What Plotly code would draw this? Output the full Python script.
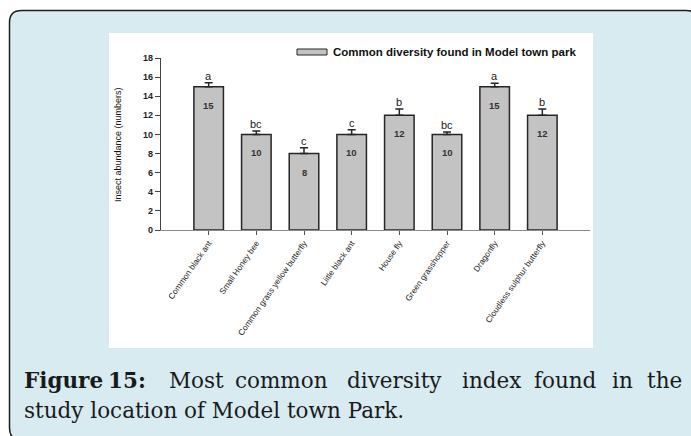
import plotly.graph_objects as go

# Insect survey data, Model town park
species = [
    "Common black ant",
    "Small Honey bee",
    "Common grass yellow butterfly",
    "Liitle black ant",
    "House fly",
    "Green grasshopper",
    "Dragonfly",
    "Cloudless sulphur butterfly",
]
abundance = [15, 10, 8, 10, 12, 10, 15, 12]
std_error = [0.4, 0.35, 0.6, 0.5, 0.65, 0.25, 0.35, 0.65]
groups = ["a", "bc", "c", "c", "b", "bc", "a", "b"]
y_ticks = [0, 2, 4, 6, 8, 10, 12, 14, 16, 18]
series_name = "Common diversity found in Model town park"

W, H = 691, 436


def px(x):
    return x / W


def py(y):
    return 1 - y / H


def rounded_rect(x0, y0, x1, y1, r):
    pts = [
        f"M{px(x0 + r)},{py(y0)}",
        f"L{px(x1 - r)},{py(y0)}",
        f"Q{px(x1)},{py(y0)} {px(x1)},{py(y0 + r)}",
        f"L{px(x1)},{py(y1 - r)}",
        f"Q{px(x1)},{py(y1)} {px(x1 - r)},{py(y1)}",
        f"L{px(x0 + r)},{py(y1)}",
        f"Q{px(x0)},{py(y1)} {px(x0)},{py(y1 - r)}",
        f"L{px(x0)},{py(y0 + r)}",
        f"Q{px(x0)},{py(y0)} {px(x0 + r)},{py(y0)}",
        "Z",
    ]
    return " ".join(pts)


SANS = "Liberation Sans, Arial, sans-serif"
SERIF = "DejaVu Serif, Cambria, serif"

fig = go.Figure()
fig.add_trace(
    go.Bar(
        x=species,
        y=abundance,
        width=0.62,
        marker=dict(color="#c3c3c3", line=dict(color="#262626", width=1.5)),
        error_y=dict(
            type="data",
            symmetric=False,
            array=std_error,
            arrayminus=[0] * len(std_error),
            color="#262626",
            thickness=1.5,
            width=4,
        ),
        showlegend=False,
    )
)

annotations = []
# value labels inside the bars
for s, v in zip(species, abundance):
    annotations.append(
        dict(
            x=s, y=v, xref="x", yref="y", text=str(v), showarrow=False,
            yanchor="top", yshift=-11,
            font=dict(family=SANS, size=9.5, color="#333333", weight="bold"),
        )
    )
# significance letters above the error bars
for s, v, e, g in zip(species, abundance, std_error, groups):
    annotations.append(
        dict(
            x=s, y=v + e, xref="x", yref="y", text=g, showarrow=False,
            yanchor="bottom", yshift=-1,
            font=dict(family=SANS, size=11, color="#222222"),
        )
    )

# y-axis title
annotations.append(
    dict(
        x=px(118), y=py(144), xref="paper", yref="paper",
        text="Insect abundance (numbers)", textangle=-90, showarrow=False,
        xanchor="center", yanchor="middle",
        font=dict(family=SANS, size=9, color="#111111"),
    )
)
# legend label
annotations.append(
    dict(
        x=px(331), y=py(52), xref="paper", yref="paper",
        text=series_name, showarrow=False, xanchor="left", yanchor="middle",
        font=dict(family=SANS, size=11.5, color="#111111", weight="bold"),
    )
)

# caption, first line spread to full width
caption_words = [
    ("Figure", 22, True), ("15:", 106, True), ("Most", 167, False),
    ("common", 233, False), ("diversity", 345, False), ("index", 460, False),
    ("found", 532, False), ("in", 610, False), ("the", 645, False),
]
for word, xpos, bold in caption_words:
    annotations.append(
        dict(
            x=px(xpos), y=py(380), xref="paper", yref="paper", text=word,
            showarrow=False, xanchor="left", yanchor="middle",
            font=dict(family=SERIF, size=21.5, color="#1a1a1a",
                      weight="bold" if bold else "normal"),
        )
    )
annotations.append(
    dict(
        x=px(22), y=py(410), xref="paper", yref="paper",
        text="study location of Model town Park.", showarrow=False,
        xanchor="left", yanchor="middle",
        font=dict(family=SERIF, size=21.5, color="#1a1a1a"),
    )
)

shapes = [
    # outer tinted panel with rounded border
    dict(type="path", xref="paper", yref="paper", layer="below",
         path=rounded_rect(9.5, 10.5, 698, 440, 12),
         fillcolor="#d7ebf1", line=dict(color="#1e1e1e", width=1.5)),
    # white chart panel
    dict(type="rect", xref="paper", yref="paper", layer="below",
         x0=px(109), x1=px(593), y0=py(348), y1=py(33),
         fillcolor="#ffffff", line=dict(width=0)),
    # legend swatch
    dict(type="rect", xref="paper", yref="paper",
         x0=px(297), x1=px(327), y0=py(55), y1=py(49),
         fillcolor="#c3c3c3", line=dict(color="#262626", width=1)),
]

fig.update_layout(
    width=W, height=H,
    margin=dict(l=0, r=0, t=0, b=0),
    template="none",
    paper_bgcolor="#ffffff",
    plot_bgcolor="rgba(0,0,0,0)",
    annotations=annotations,
    shapes=shapes,
    xaxis=dict(
        domain=[px(161), px(590)],
        range=[-1, 8],
        type="category",
        tickangle=-55,
        tickfont=dict(family=SANS, size=8.3, color="#222222"),
        showline=True, linecolor="#8a8a8a", linewidth=1.2,
        ticks="outside", ticklen=4, tickcolor="#555555",
        showgrid=False, zeroline=False, automargin=False,
    ),
    yaxis=dict(
        domain=[py(230), py(58)],
        range=[0, 18],
        tickvals=y_ticks,
        tickfont=dict(family=SANS, size=9, color="#222222", weight="bold"),
        showline=True, linecolor="#444444", linewidth=1.2,
        ticks="outside", ticklen=5, tickcolor="#444444",
        showgrid=False, zeroline=False, automargin=False,
    ),
)

fig.write_html("out.html")
